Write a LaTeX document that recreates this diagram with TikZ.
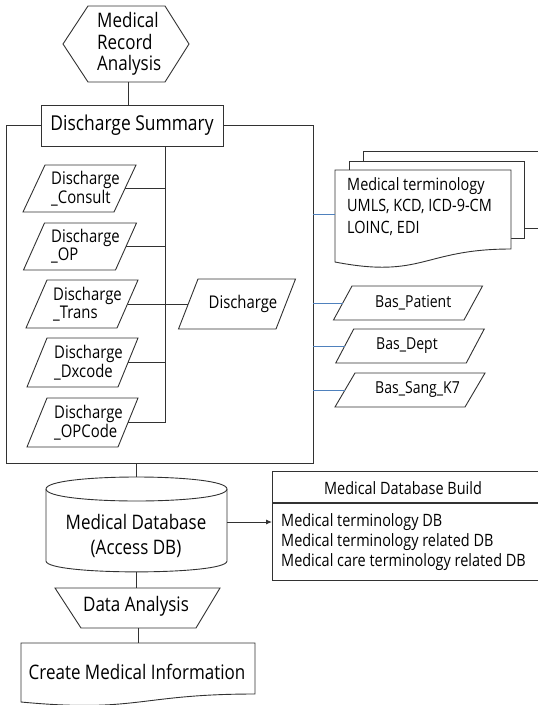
\documentclass[tikz,border=0pt]{standalone}
\usepackage{fontspec}
\setmainfont[FakeStretch=0.85]{Open Sans}
\usetikzlibrary{calc,arrows.meta}
\definecolor{linkblue}{RGB}{79,129,189}
\definecolor{edge}{RGB}{50,50,50}

% parallelogram: name, centre x, centre y, side width, height, slant
\newcommand\plgram[6]{%
  \draw[ln, fill=white] ({#2-#4/2-#6/2},{#3+#5/2}) -- ++(#4,0) -- ++(#6,-#5) -- ++(-#4,0) -- cycle;
  \coordinate (#1-w) at ({#2-#4/2},#3);
  \coordinate (#1-e) at ({#2+#4/2},#3);
}

\begin{document}
\begin{tikzpicture}[x=1pt,y=-1pt,
  ln/.style={line width=0.9pt, draw=edge},
  blueln/.style={line width=0.9pt, draw=linkblue},
  bigtxt/.style={font=\fontsize{20}{21.5}\selectfont, inner sep=0pt},
  midtxt/.style={font=\fontsize{17.5}{16}\selectfont, inner sep=0pt, align=left},
  smalltxt/.style={font=\fontsize{17}{20}\selectfont, inner sep=0pt, align=left},
]
\clip (0,0) rectangle (538,705);

% ---- top: hexagon
\draw[ln, fill=white] (63,44) -- (88,6) -- (165,6) -- (189,44) -- (165,82) -- (88,82) -- cycle;
\node[bigtxt, align=left, anchor=west] (mra) at (97,44) {Medical\\Record\\Analysis};
\coordinate (hexS) at (128,82);

% ---- frame holding the discharge tables
\node[ln, draw, minimum width=307pt, minimum height=338pt, inner sep=0pt] (frame) at (159.5,294) {};
\node[ln, draw, fill=white, bigtxt, font=\fontsize{20.5}{22}\selectfont,
      minimum width=182pt, minimum height=41pt] (summary) at (132,125.5) {Discharge Summary};
\draw[ln] (hexS) -- (hexS |- summary.north);

% ---- bus joining the discharge tables
\coordinate (busT) at (165,146);
\coordinate (busB) at (165,422.5);
\draw[ln] (busT) -- (busB);

\plgram{consult}{79.5}{188.5}{91}{47}{22}
\node[midtxt, anchor=west] (consultT) at (51,188.5) {Discharge\\\_Consult};
\plgram{op}{80}{246.5}{92}{47}{21}
\node[midtxt, anchor=west] (opT) at (51,246.5) {Discharge\\\_OP};
\plgram{trans}{82}{304}{91}{48}{21}
\node[midtxt, anchor=west] (transT) at (53,304) {Discharge\\\_Trans};
\plgram{dx}{82.5}{362.5}{91}{49}{20}
\node[midtxt, anchor=west] (dxT) at (54,362.5) {Discharge\\\_Dxcode};
\plgram{opc}{82.5}{422.5}{91}{49}{20}
\node[midtxt, anchor=west] (opcT) at (54,422.5) {Discharge\\\_OPCode};

\plgram{dis}{237}{304}{97.5}{50}{19.5}
\node[midtxt] (disT) at (243,304) {Discharge};

\draw[ln] (consult-e) -- (consult-e -| busT);
\draw[ln] (op-e) -- (op-e -| busT);
\draw[ln] (dx-e) -- (dx-e -| busT);
\draw[ln] (opc-e) -- (opc-e -| busT);
\draw[ln] (trans-e) -- (dis-w);

% ---- terminology documents
\draw[ln, fill=white] (363,151) rectangle (560,228);
\draw[ln, fill=white] (349,161) rectangle (524,238);
\draw[ln, fill=white] (335,170) -- (511,170) -- (511,249)
   .. controls (423,249) and (423,279) .. (335,262) -- cycle;
\coordinate (term-w) at (335,214);
\node[smalltxt, font=\fontsize{17}{21.5}\selectfont, anchor=west] (termT) at (347,206.5)
   {Medical terminology\\UMLS, KCD, ICD-9-CM\\LOINC, EDI};

% ---- base tables
\plgram{pat}{408}{303}{130.5}{34}{18.5}
\node[smalltxt, font=\fontsize{16.5}{18}\selectfont, anchor=west] (patT) at (375,303) {Bas\_Patient};
\plgram{dept}{410}{346}{130.5}{34}{18}
\node[smalltxt, font=\fontsize{16.5}{18}\selectfont, anchor=west] (deptT) at (376,346) {Bas\_Dept};
\plgram{sang}{410}{390}{130}{34}{20}
\node[smalltxt, font=\fontsize{16.5}{18}\selectfont, anchor=west] (sangT) at (375,390) {Bas\_Sang\_K7};

\draw[blueln] (frame.east |- term-w) -- (term-w);
\draw[blueln] (frame.east |- pat-w) -- (pat-w);
\draw[blueln] (frame.east |- dept-w) -- (dept-w);
\draw[blueln] (frame.east |- sang-w) -- (sang-w);

% ---- medical database cylinder
\coordinate (dbTop) at (136,477);
\draw[ln, fill=white] (46,489) -- (46,561) .. controls (46,575.5) and (227,575.5) .. (227,561) -- (227,489);
\draw[ln] (46,489) .. controls (46,473) and (227,473) .. (227,489)
          .. controls (227,505) and (46,505) .. (46,489);
\node[bigtxt, align=center, font=\fontsize{20}{25.5}\selectfont] (db) at (136,536) {Medical Database\\(Access DB)};
\coordinate (dbBot) at (136,572);
\draw[ln] (frame.south -| dbTop) -- (dbTop);

% ---- database build box
\draw[ln, fill=white] (272,471) rectangle (560,580);
\draw[line width=2pt, draw=edge] (272,503) -- (560,503);
\node[smalltxt] (buildH) at (403,488) {Medical Database Build};
\node[smalltxt, anchor=west] (buildB) at (281,542)
   {Medical terminology DB\\Medical terminology related DB\\Medical care terminology related DB};
\coordinate (dbE) at (227,522);
\coordinate (buildW) at (272,522);
\draw[ln, -{Latex[length=6pt,width=5pt]}] (dbE) -- (buildW);

% ---- data analysis
\draw[ln, fill=white] (55,588) -- (220,588) -- (196,628) -- (81,628) -- cycle;
\node[bigtxt] (da) at (136,606) {Data Analysis};
\coordinate (daTop) at (136,588);
\coordinate (daBot) at (138,628);
\draw[ln] (dbBot) -- (daTop);

% ---- result document
\draw[ln, fill=white] (21,643) -- (255,643) -- (255,694)
   .. controls (138,694) and (138,713) .. (21,702) -- cycle;
\coordinate (cmiTop) at (138,643);
\node[bigtxt] (cmi) at (137,672) {Create Medical Information};
\draw[ln] (daBot) -- (cmiTop);
\end{tikzpicture}
\end{document}
